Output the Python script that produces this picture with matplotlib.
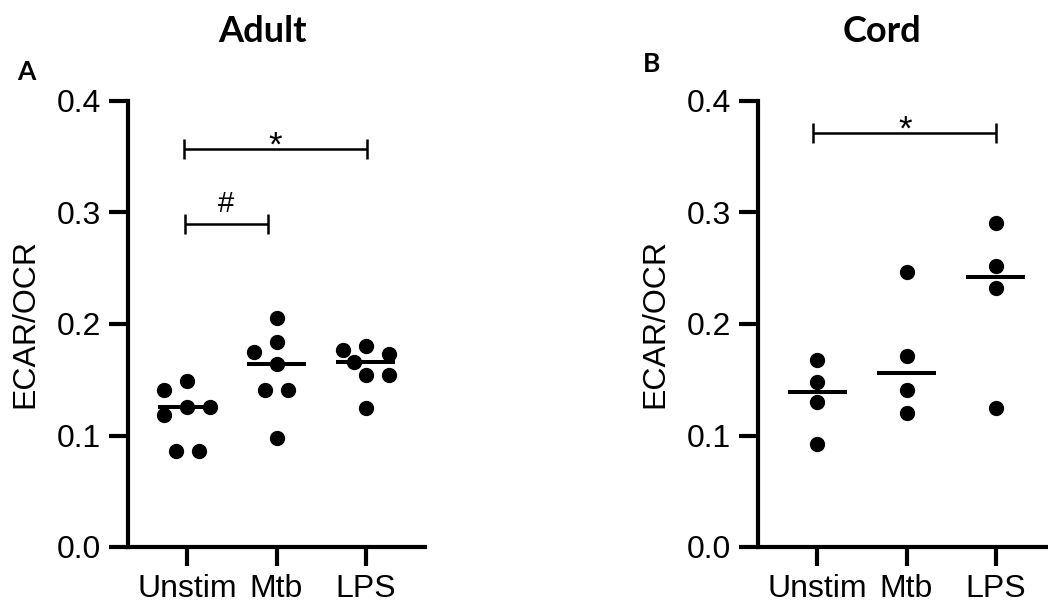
import numpy as np
import matplotlib
matplotlib.use("Agg")
import matplotlib.pyplot as plt

# ---- data -------------------------------------------------------------
groups = ["Unstim", "Mtb", "LPS"]

adult_unstim = [0.149, 0.141, 0.126, 0.126, 0.118, 0.086, 0.086]
adult_mtb = [0.205, 0.184, 0.175, 0.164, 0.141, 0.141, 0.098]
adult_lps = [0.180, 0.177, 0.173, 0.166, 0.154, 0.154, 0.125]

cord_unstim = [0.168, 0.148, 0.130, 0.092]
cord_mtb = [0.247, 0.171, 0.141, 0.120]
cord_lps = [0.291, 0.252, 0.232, 0.125]

yticks = [0.0, 0.1, 0.2, 0.3, 0.4]

# significance brackets: (x start, x end, height, label)
adult_brackets = [(-0.03, 2.01, 0.357, "*"), (-0.02, 0.90, 0.290, "#")]
cord_brackets = [(-0.04, 2.00, 0.371, "*")]

# ---- style ------------------------------------------------------------
SANS = "Liberation Sans"
TITLE_FONT = "Lato"
LW = 3.0
plt.rcParams["font.family"] = [SANS, "DejaVu Sans"]

fig = plt.figure(figsize=(10.48, 6.10), dpi=100)
W, H = 1048, 610


def swarm_offsets(ax, xc, vals, step_px=11.5, min_dist_px=16.0):
    """Beeswarm-style horizontal offsets (in category units)."""
    vals = np.asarray(vals, dtype=float)
    pts = ax.transData.transform(np.column_stack([np.full(len(vals), xc), vals]))
    ys = pts[:, 1]
    px_per_cat = (ax.transData.transform((1, 0)) - ax.transData.transform((0, 0)))[0]
    order = np.argsort(-vals, kind="stable")
    offs = np.zeros(len(vals))
    placed = {}
    side = -1.0

    def free(c, y, skip=()):
        return all(np.hypot(c - dx, y - py) >= min_dist_px
                   for j, (dx, py) in placed.items() if j not in skip)

    for i in order:
        y = ys[i]
        cands = [0.0]
        for k in range(1, 15):
            cands += [side * k * step_px, -side * k * step_px]
        for c in cands:
            if free(c, y):
                break
        if c != 0:
            side = -np.sign(c)
        placed[i] = (c, y)
        offs[i] = c

    # centre groups of identical values when there is room
    for v in np.unique(vals):
        idx = np.where(vals == v)[0]
        if len(idx) < 2:
            continue
        shift = -offs[idx].mean()
        if shift == 0:
            continue
        if all(free(offs[j] + shift, ys[j], skip=set(idx)) for j in idx):
            for j in idx:
                offs[j] += shift
                placed[j] = (offs[j], ys[j])
    return offs / px_per_cat


def panel(left_px, series, brackets):
    ax = fig.add_axes([left_px / W, (H - 547) / H, 297 / W, 446 / H])
    ax.set_xlim(-0.66, 2.66)
    ax.set_ylim(0, 0.4)
    for s in ("top", "right"):
        ax.spines[s].set_visible(False)
    for s in ("left", "bottom"):
        ax.spines[s].set_linewidth(LW)
        ax.spines[s].set_capstyle("projecting")
    ax.set_yticks(yticks)
    ax.set_yticklabels([f"{t:.1f}" for t in yticks])
    ax.set_xticks(range(len(groups)))
    ax.set_xticklabels(groups)
    ax.tick_params(axis="both", direction="out", width=LW, length=13.5,
                   labelsize=23, pad=6, colors="black")
    ax.set_ylabel("ECAR/OCR", fontsize=23)
    ax.yaxis.label.set_va("center")
    ax.yaxis.set_label_coords(-103 / 297, 0.5)

    for i, vals in enumerate(series):
        dx = swarm_offsets(ax, i, vals)
        ax.plot(i + dx, vals, "o", ms=10, color="black", mec="black",
                zorder=3, clip_on=False)
        ax.hlines(np.median(vals), i - 0.33, i + 0.33, color="black",
                  lw=2.9, zorder=2)

    for x0, x1, y, lab in brackets:
        ax.hlines(y, x0, x1, color="black", lw=1.8, clip_on=False)
        ax.vlines([x0, x1], y - 0.009, y + 0.009, color="black", lw=1.8,
                  clip_on=False)
        if lab == "*":
            ax.text((x0 + x1) / 2, y - 0.006, lab, ha="center", va="baseline",
                    fontsize=25, color="black")
        else:
            ax.text((x0 + x1) / 2, y + 0.010, lab, ha="center", va="baseline",
                    fontsize=21, color="black")
    return ax


panel(128, [adult_unstim, adult_mtb, adult_lps], adult_brackets)
panel(758, [cord_unstim, cord_mtb, cord_lps], cord_brackets)

# titles and panel letters
fig.text(262.5 / W, 1 - 42 / H, "Adult", family=[TITLE_FONT, "DejaVu Sans"],
         weight="bold", fontsize=26, ha="center", va="baseline")
fig.text(882 / W, 1 - 42 / H, "Cord", family=[TITLE_FONT, "DejaVu Sans"],
         weight="bold", fontsize=26, ha="center", va="baseline")
fig.text(17 / W, 1 - 80 / H, "A", family=[TITLE_FONT, "DejaVu Sans"],
         weight="bold", fontsize=19, ha="left", va="baseline")
fig.text(643 / W, 1 - 72 / H, "B", family=[TITLE_FONT, "DejaVu Sans"],
         weight="bold", fontsize=19, ha="left", va="baseline")

fig.savefig("out.png", dpi=100, facecolor="white")
